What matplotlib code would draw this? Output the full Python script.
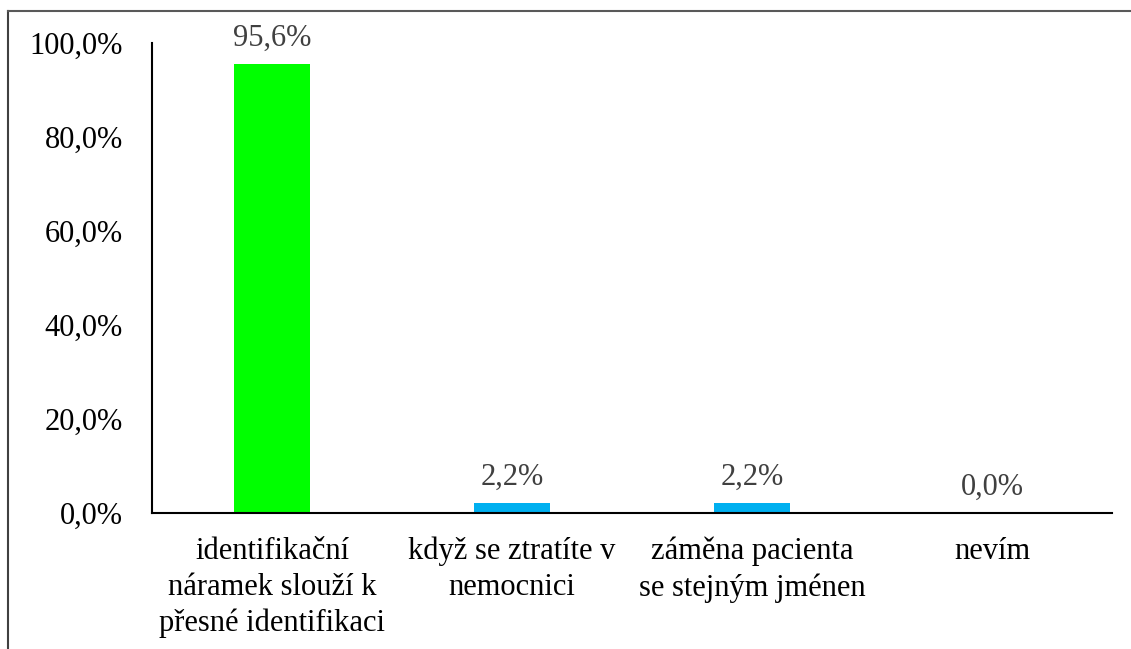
import matplotlib.pyplot as plt
from matplotlib.lines import Line2D

categories = ["identifikační\nnáramek slouží k\npřesné identifikaci",
              "když se ztratíte v\nnemocnici",
              "záměna pacienta\nse stejným jménen",
              "nevím"]
values = [95.6, 2.2, 2.2, 0.0]
colors = ["#00FF00", "#00B0F0", "#00B0F0", "#00B0F0"]
yticks = [0, 20, 40, 60, 80, 100]

plt.rcParams['font.family'] = ['Liberation Serif', 'DejaVu Serif']

fig = plt.figure(figsize=(11.31, 6.49), dpi=100)
ax = fig.add_axes([152/1131, 1 - 513/649, 960/1131, 470/649])

x = list(range(len(categories)))
bars = ax.bar(x, values, width=0.317, color=colors)

for xi, v in zip(x, values):
    ax.annotate(f"{v:.1f}%".replace(".", ","), (xi, v), xytext=(0, 8),
                textcoords="offset points", ha="center", va="bottom",
                fontsize=22, color="#404040")

ax.set_xlim(-0.5, 3.5)
ax.set_ylim(0, 100)
ax.set_yticks(yticks)
ax.set_yticklabels([f"{t:.1f}%".replace(".", ",") for t in yticks], fontsize=22)
ax.set_xticks(x)
ax.set_xticklabels(categories, fontsize=22, linespacing=1.32)
ax.tick_params(axis="y", length=0, pad=21)
ax.tick_params(axis="x", length=0, pad=17)

for s in ["top", "right"]:
    ax.spines[s].set_visible(False)
for s in ["left", "bottom"]:
    ax.spines[s].set_linewidth(1.5)
    ax.spines[s].set_color("black")

# outer frame (left and top edges)
fig.add_artist(Line2D([8/1131, 8/1131], [0, 1 - 11/649], transform=fig.transFigure,
                      color="#404040", lw=1.5))
fig.add_artist(Line2D([8/1131, 1], [1 - 11/649, 1 - 11/649], transform=fig.transFigure,
                      color="#595959", lw=1.5))

fig.savefig("out.png", dpi=100)
